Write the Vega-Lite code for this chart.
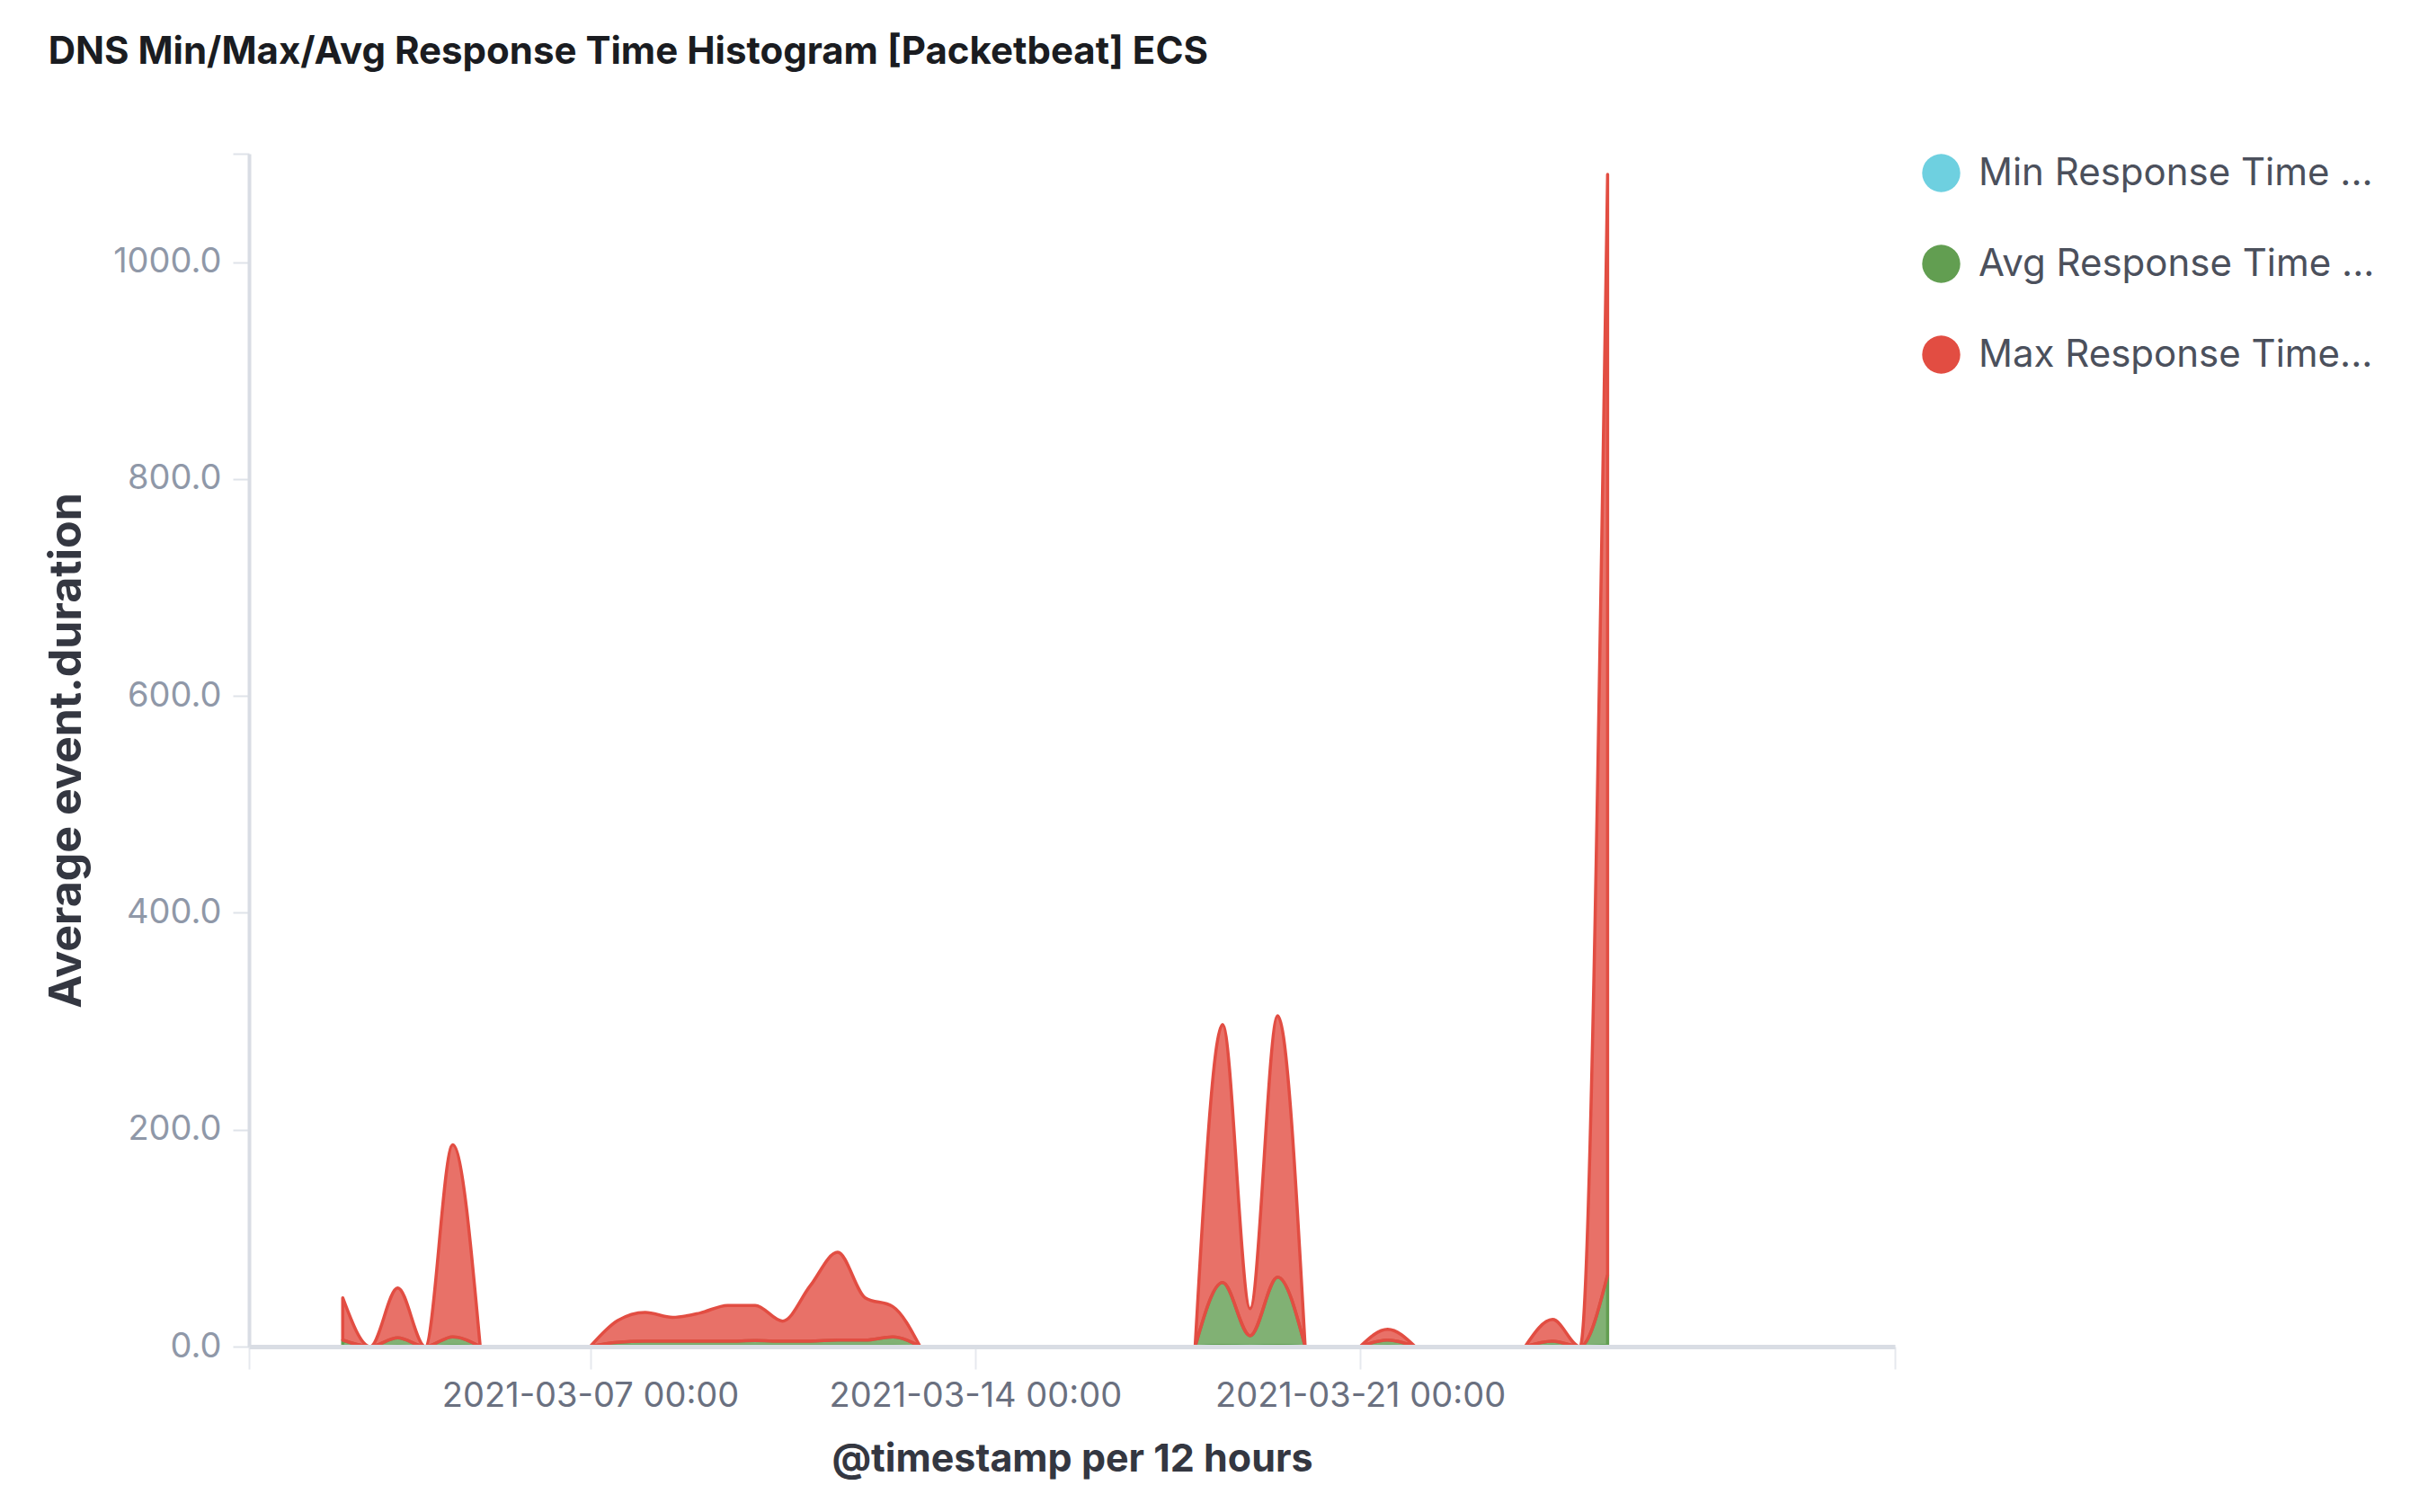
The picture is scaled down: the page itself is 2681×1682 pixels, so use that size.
{
  "$schema": "https://vega.github.io/schema/vega-lite/v6.json",
  "width": 1831,
  "height": 1327,
  "autosize": {"type": "none"},
  "padding": {"left": 277, "top": 171, "right": 573, "bottom": 184},
  "background": "white",
  "title": {
    "text": "DNS Min/Max/Avg Response Time Histogram [Packetbeat] ECS",
    "anchor": "start",
    "frame": "bounds",
    "font": "Inter",
    "fontSize": 42,
    "fontWeight": "bold",
    "color": "#1a1c21",
    "offset": 90,
    "dx": 4
  },
  "config": {"view": {"stroke": null}},
  "data": {
    "values": [
      {"t": "2021-03-02T12:00:00Z", "cluster": "c1", "series": "Min Response Time ...", "rank": 1, "value": 0.5},
      {"t": "2021-03-03T00:00:00Z", "cluster": "c1", "series": "Min Response Time ...", "rank": 1, "value": 0},
      {"t": "2021-03-03T12:00:00Z", "cluster": "c1", "series": "Min Response Time ...", "rank": 1, "value": 0.5},
      {"t": "2021-03-04T00:00:00Z", "cluster": "c1", "series": "Min Response Time ...", "rank": 1, "value": 0},
      {"t": "2021-03-04T12:00:00Z", "cluster": "c1", "series": "Min Response Time ...", "rank": 1, "value": 0.6},
      {"t": "2021-03-05T00:00:00Z", "cluster": "c1", "series": "Min Response Time ...", "rank": 1, "value": 0},
      {"t": "2021-03-07T00:00:00Z", "cluster": "c2", "series": "Min Response Time ...", "rank": 1, "value": 0},
      {"t": "2021-03-07T12:00:00Z", "cluster": "c2", "series": "Min Response Time ...", "rank": 1, "value": 0.4},
      {"t": "2021-03-08T00:00:00Z", "cluster": "c2", "series": "Min Response Time ...", "rank": 1, "value": 0.5},
      {"t": "2021-03-08T12:00:00Z", "cluster": "c2", "series": "Min Response Time ...", "rank": 1, "value": 0.5},
      {"t": "2021-03-09T00:00:00Z", "cluster": "c2", "series": "Min Response Time ...", "rank": 1, "value": 0.5},
      {"t": "2021-03-09T12:00:00Z", "cluster": "c2", "series": "Min Response Time ...", "rank": 1, "value": 0.5},
      {"t": "2021-03-10T00:00:00Z", "cluster": "c2", "series": "Min Response Time ...", "rank": 1, "value": 0.5},
      {"t": "2021-03-10T12:00:00Z", "cluster": "c2", "series": "Min Response Time ...", "rank": 1, "value": 0.5},
      {"t": "2021-03-11T00:00:00Z", "cluster": "c2", "series": "Min Response Time ...", "rank": 1, "value": 0.5},
      {"t": "2021-03-11T12:00:00Z", "cluster": "c2", "series": "Min Response Time ...", "rank": 1, "value": 0.5},
      {"t": "2021-03-12T00:00:00Z", "cluster": "c2", "series": "Min Response Time ...", "rank": 1, "value": 0.5},
      {"t": "2021-03-12T12:00:00Z", "cluster": "c2", "series": "Min Response Time ...", "rank": 1, "value": 0.5},
      {"t": "2021-03-13T00:00:00Z", "cluster": "c2", "series": "Min Response Time ...", "rank": 1, "value": 0},
      {"t": "2021-03-18T00:00:00Z", "cluster": "c3", "series": "Min Response Time ...", "rank": 1, "value": 0},
      {"t": "2021-03-18T12:00:00Z", "cluster": "c3", "series": "Min Response Time ...", "rank": 1, "value": 1},
      {"t": "2021-03-19T00:00:00Z", "cluster": "c3", "series": "Min Response Time ...", "rank": 1, "value": 0.5},
      {"t": "2021-03-19T12:00:00Z", "cluster": "c3", "series": "Min Response Time ...", "rank": 1, "value": 1},
      {"t": "2021-03-20T00:00:00Z", "cluster": "c3", "series": "Min Response Time ...", "rank": 1, "value": 0},
      {"t": "2021-03-21T00:00:00Z", "cluster": "c4", "series": "Min Response Time ...", "rank": 1, "value": 0},
      {"t": "2021-03-21T12:00:00Z", "cluster": "c4", "series": "Min Response Time ...", "rank": 1, "value": 0.5},
      {"t": "2021-03-22T00:00:00Z", "cluster": "c4", "series": "Min Response Time ...", "rank": 1, "value": 0},
      {"t": "2021-03-24T00:00:00Z", "cluster": "c5", "series": "Min Response Time ...", "rank": 1, "value": 0},
      {"t": "2021-03-24T12:00:00Z", "cluster": "c5", "series": "Min Response Time ...", "rank": 1, "value": 0.5},
      {"t": "2021-03-25T00:00:00Z", "cluster": "c5", "series": "Min Response Time ...", "rank": 1, "value": 0},
      {"t": "2021-03-25T12:00:00Z", "cluster": "c5", "series": "Min Response Time ...", "rank": 1, "value": 1},

      {"t": "2021-03-02T12:00:00Z", "cluster": "c1", "series": "Avg Response Time ...", "rank": 2, "value": 5.5},
      {"t": "2021-03-03T00:00:00Z", "cluster": "c1", "series": "Avg Response Time ...", "rank": 2, "value": 0},
      {"t": "2021-03-03T12:00:00Z", "cluster": "c1", "series": "Avg Response Time ...", "rank": 2, "value": 7.5},
      {"t": "2021-03-04T00:00:00Z", "cluster": "c1", "series": "Avg Response Time ...", "rank": 2, "value": 0},
      {"t": "2021-03-04T12:00:00Z", "cluster": "c1", "series": "Avg Response Time ...", "rank": 2, "value": 8.4},
      {"t": "2021-03-05T00:00:00Z", "cluster": "c1", "series": "Avg Response Time ...", "rank": 2, "value": 0},
      {"t": "2021-03-07T00:00:00Z", "cluster": "c2", "series": "Avg Response Time ...", "rank": 2, "value": 0},
      {"t": "2021-03-07T12:00:00Z", "cluster": "c2", "series": "Avg Response Time ...", "rank": 2, "value": 3.6},
      {"t": "2021-03-08T00:00:00Z", "cluster": "c2", "series": "Avg Response Time ...", "rank": 2, "value": 4.5},
      {"t": "2021-03-08T12:00:00Z", "cluster": "c2", "series": "Avg Response Time ...", "rank": 2, "value": 4.5},
      {"t": "2021-03-09T00:00:00Z", "cluster": "c2", "series": "Avg Response Time ...", "rank": 2, "value": 4.5},
      {"t": "2021-03-09T12:00:00Z", "cluster": "c2", "series": "Avg Response Time ...", "rank": 2, "value": 4.5},
      {"t": "2021-03-10T00:00:00Z", "cluster": "c2", "series": "Avg Response Time ...", "rank": 2, "value": 5},
      {"t": "2021-03-10T12:00:00Z", "cluster": "c2", "series": "Avg Response Time ...", "rank": 2, "value": 4.5},
      {"t": "2021-03-11T00:00:00Z", "cluster": "c2", "series": "Avg Response Time ...", "rank": 2, "value": 4.5},
      {"t": "2021-03-11T12:00:00Z", "cluster": "c2", "series": "Avg Response Time ...", "rank": 2, "value": 5.5},
      {"t": "2021-03-12T00:00:00Z", "cluster": "c2", "series": "Avg Response Time ...", "rank": 2, "value": 5.5},
      {"t": "2021-03-12T12:00:00Z", "cluster": "c2", "series": "Avg Response Time ...", "rank": 2, "value": 8.5},
      {"t": "2021-03-13T00:00:00Z", "cluster": "c2", "series": "Avg Response Time ...", "rank": 2, "value": 0},
      {"t": "2021-03-18T00:00:00Z", "cluster": "c3", "series": "Avg Response Time ...", "rank": 2, "value": 0},
      {"t": "2021-03-18T12:00:00Z", "cluster": "c3", "series": "Avg Response Time ...", "rank": 2, "value": 58},
      {"t": "2021-03-19T00:00:00Z", "cluster": "c3", "series": "Avg Response Time ...", "rank": 2, "value": 9.5},
      {"t": "2021-03-19T12:00:00Z", "cluster": "c3", "series": "Avg Response Time ...", "rank": 2, "value": 63},
      {"t": "2021-03-20T00:00:00Z", "cluster": "c3", "series": "Avg Response Time ...", "rank": 2, "value": 0},
      {"t": "2021-03-21T00:00:00Z", "cluster": "c4", "series": "Avg Response Time ...", "rank": 2, "value": 0},
      {"t": "2021-03-21T12:00:00Z", "cluster": "c4", "series": "Avg Response Time ...", "rank": 2, "value": 5.5},
      {"t": "2021-03-22T00:00:00Z", "cluster": "c4", "series": "Avg Response Time ...", "rank": 2, "value": 0},
      {"t": "2021-03-24T00:00:00Z", "cluster": "c5", "series": "Avg Response Time ...", "rank": 2, "value": 0},
      {"t": "2021-03-24T12:00:00Z", "cluster": "c5", "series": "Avg Response Time ...", "rank": 2, "value": 4.5},
      {"t": "2021-03-25T00:00:00Z", "cluster": "c5", "series": "Avg Response Time ...", "rank": 2, "value": 0},
      {"t": "2021-03-25T12:00:00Z", "cluster": "c5", "series": "Avg Response Time ...", "rank": 2, "value": 65},

      {"t": "2021-03-02T12:00:00Z", "cluster": "c1", "series": "Max Response Time...", "rank": 3, "value": 39},
      {"t": "2021-03-03T00:00:00Z", "cluster": "c1", "series": "Max Response Time...", "rank": 3, "value": 0},
      {"t": "2021-03-03T12:00:00Z", "cluster": "c1", "series": "Max Response Time...", "rank": 3, "value": 46},
      {"t": "2021-03-04T00:00:00Z", "cluster": "c1", "series": "Max Response Time...", "rank": 3, "value": 0},
      {"t": "2021-03-04T12:00:00Z", "cluster": "c1", "series": "Max Response Time...", "rank": 3, "value": 177},
      {"t": "2021-03-05T00:00:00Z", "cluster": "c1", "series": "Max Response Time...", "rank": 3, "value": 0},
      {"t": "2021-03-07T00:00:00Z", "cluster": "c2", "series": "Max Response Time...", "rank": 3, "value": 0},
      {"t": "2021-03-07T12:00:00Z", "cluster": "c2", "series": "Max Response Time...", "rank": 3, "value": 20},
      {"t": "2021-03-08T00:00:00Z", "cluster": "c2", "series": "Max Response Time...", "rank": 3, "value": 26.5},
      {"t": "2021-03-08T12:00:00Z", "cluster": "c2", "series": "Max Response Time...", "rank": 3, "value": 22},
      {"t": "2021-03-09T00:00:00Z", "cluster": "c2", "series": "Max Response Time...", "rank": 3, "value": 26},
      {"t": "2021-03-09T12:00:00Z", "cluster": "c2", "series": "Max Response Time...", "rank": 3, "value": 33},
      {"t": "2021-03-10T00:00:00Z", "cluster": "c2", "series": "Max Response Time...", "rank": 3, "value": 32.5},
      {"t": "2021-03-10T12:00:00Z", "cluster": "c2", "series": "Max Response Time...", "rank": 3, "value": 18.5},
      {"t": "2021-03-11T00:00:00Z", "cluster": "c2", "series": "Max Response Time...", "rank": 3, "value": 51},
      {"t": "2021-03-11T12:00:00Z", "cluster": "c2", "series": "Max Response Time...", "rank": 3, "value": 81},
      {"t": "2021-03-12T00:00:00Z", "cluster": "c2", "series": "Max Response Time...", "rank": 3, "value": 39},
      {"t": "2021-03-12T12:00:00Z", "cluster": "c2", "series": "Max Response Time...", "rank": 3, "value": 28},
      {"t": "2021-03-13T00:00:00Z", "cluster": "c2", "series": "Max Response Time...", "rank": 3, "value": 0},
      {"t": "2021-03-18T00:00:00Z", "cluster": "c3", "series": "Max Response Time...", "rank": 3, "value": 0},
      {"t": "2021-03-18T12:00:00Z", "cluster": "c3", "series": "Max Response Time...", "rank": 3, "value": 238},
      {"t": "2021-03-19T00:00:00Z", "cluster": "c3", "series": "Max Response Time...", "rank": 3, "value": 25},
      {"t": "2021-03-19T12:00:00Z", "cluster": "c3", "series": "Max Response Time...", "rank": 3, "value": 241},
      {"t": "2021-03-20T00:00:00Z", "cluster": "c3", "series": "Max Response Time...", "rank": 3, "value": 0},
      {"t": "2021-03-21T00:00:00Z", "cluster": "c4", "series": "Max Response Time...", "rank": 3, "value": 0},
      {"t": "2021-03-21T12:00:00Z", "cluster": "c4", "series": "Max Response Time...", "rank": 3, "value": 10},
      {"t": "2021-03-22T00:00:00Z", "cluster": "c4", "series": "Max Response Time...", "rank": 3, "value": 0},
      {"t": "2021-03-24T00:00:00Z", "cluster": "c5", "series": "Max Response Time...", "rank": 3, "value": 0},
      {"t": "2021-03-24T12:00:00Z", "cluster": "c5", "series": "Max Response Time...", "rank": 3, "value": 20},
      {"t": "2021-03-25T00:00:00Z", "cluster": "c5", "series": "Max Response Time...", "rank": 3, "value": 0},
      {"t": "2021-03-25T12:00:00Z", "cluster": "c5", "series": "Max Response Time...", "rank": 3, "value": 1015}
    ]
  },
  "mark": {
    "type": "area",
    "interpolate": "monotone",
    "fillOpacity": 0.8,
    "strokeWidth": 3.5,
    "strokeOpacity": 1,
    "strokeJoin": "round"
  },
  "encoding": {
    "x": {
      "field": "t",
      "type": "temporal",
      "scale": {
        "type": "utc",
        "domain": [
          {"year": 2021, "month": "feb", "date": 28, "hours": 19, "minutes": 6, "utc": true},
          {"year": 2021, "month": "mar", "date": 30, "hours": 17, "minutes": 23, "utc": true}
        ]
      },
      "axis": {
        "title": "@timestamp per 12 hours",
        "values": [
          {"year": 2021, "month": "feb", "date": 28, "hours": 19, "minutes": 6, "utc": true},
          {"year": 2021, "month": "mar", "date": 7, "utc": true},
          {"year": 2021, "month": "mar", "date": 14, "utc": true},
          {"year": 2021, "month": "mar", "date": 21, "utc": true},
          {"year": 2021, "month": "mar", "date": 30, "hours": 17, "minutes": 23, "utc": true}
        ],
        "format": "%Y-%m-%d %H:%M",
        "labelExpr": "utcFormat(datum.value, '%H:%M') == '00:00' ? datum.label : ''",
        "labelFont": "Inter",
        "labelFontSize": 38,
        "labelColor": "#6a7080",
        "labelPadding": 11,
        "labelLimit": 800,
        "labelFlush": false,
        "labelOverlap": false,
        "tickSize": 25,
        "tickWidth": 2,
        "tickColor": "#e6e9ee",
        "domainColor": "#d9dde4",
        "domainWidth": 5,
        "grid": false,
        "titleFont": "Inter",
        "titleFontSize": 43,
        "titleFontWeight": "bold",
        "titleColor": "#343741",
        "titlePadding": 30,
        "zindex": 1
      }
    },
    "y": {
      "field": "value",
      "type": "quantitative",
      "stack": "zero",
      "impute": null,
      "scale": {"domain": [0, 1100], "nice": false},
      "axis": {
        "title": "Average event.duration",
        "values": [0, 200, 400, 600, 800, 1000, 1100],
        "labelExpr": "datum.value == 1100 ? '' : format(datum.value, '.1f')",
        "labelFont": "Inter",
        "labelFontSize": 38,
        "labelColor": "#8f98a8",
        "labelPadding": 13,
        "tickSize": 18,
        "tickWidth": 2,
        "tickColor": "#dfe3e9",
        "domainColor": "#d9dde4",
        "domainWidth": 4,
        "grid": false,
        "titleFont": "Inter",
        "titleFontSize": 50,
        "titleFontWeight": "bold",
        "titleColor": "#343741",
        "titlePadding": 26,
        "zindex": 1
      }
    },
    "color": {
      "field": "series",
      "type": "nominal",
      "scale": {
        "domain": ["Min Response Time ...", "Avg Response Time ...", "Max Response Time..."],
        "range": ["#6ED0E0", "#629E51", "#E24D42"]
      },
      "legend": {
        "title": null,
        "orient": "right",
        "offset": 30,
        "padding": 0,
        "symbolType": "circle",
        "symbolSize": 1800,
        "symbolOpacity": 1,
        "symbolStrokeWidth": 0,
        "labelFont": "Inter",
        "labelFontSize": 42,
        "labelColor": "#4b505c",
        "labelLimit": 800,
        "labelOffset": 20,
        "rowPadding": 58
      }
    },
    "stroke": {
      "field": "series",
      "type": "nominal",
      "scale": {
        "domain": ["Min Response Time ...", "Avg Response Time ...", "Max Response Time..."],
        "range": ["#6ED0E0", "#629E51", "#E24D42"]
      },
      "legend": null
    },
    "detail": {"field": "cluster", "type": "nominal"},
    "order": {"field": "rank", "type": "quantitative"}
  }
}
